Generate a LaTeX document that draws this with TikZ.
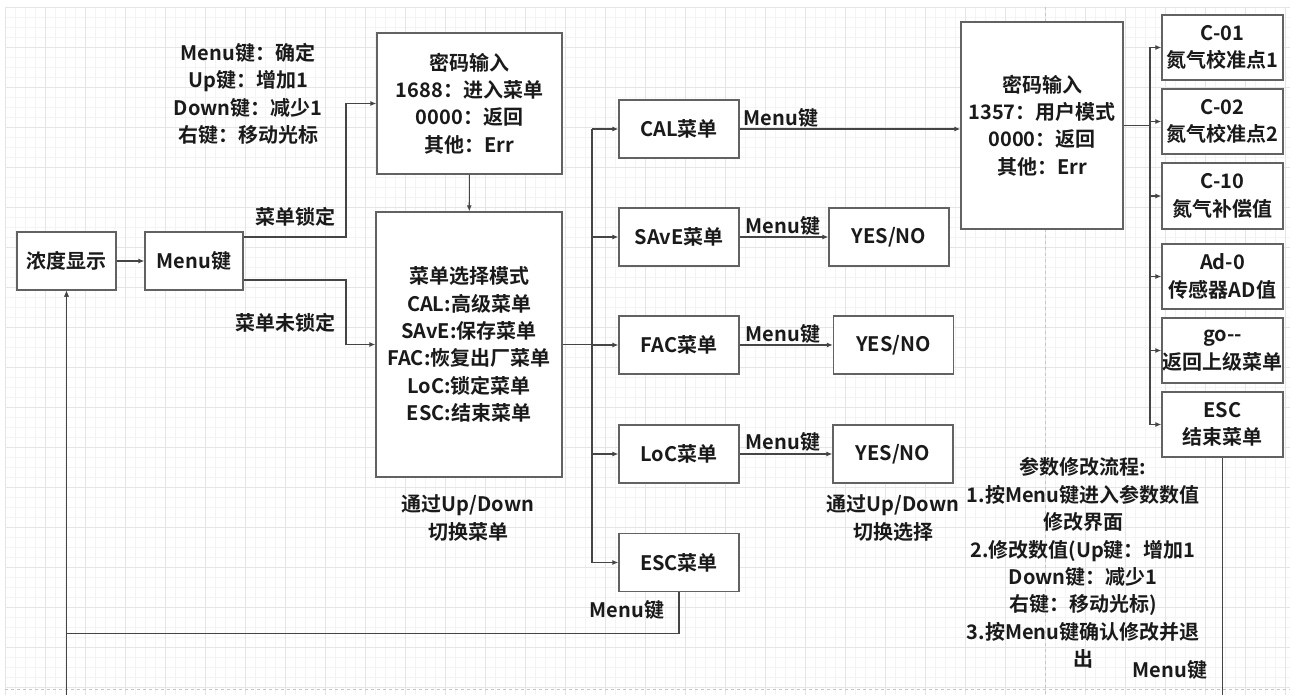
\documentclass[tikz,border=0pt]{standalone}
\usepackage{fontspec}
\setmainfont{Noto Sans CJK SC}[BoldFont={* Bold}]
\usetikzlibrary{arrows.meta}
\definecolor{boxc}{HTML}{626262}
\definecolor{linec}{HTML}{454545}
\definecolor{txtc}{HTML}{1A1A1A}
\begin{document}
\begin{tikzpicture}[x=1pt,y=-1pt,
  every node/.style={font=\fontsize{20}{27.4}\selectfont\bfseries, text=txtc},
  box/.style={draw=boxc, line width=1.3pt, fill=white, align=center, inner sep=0pt},
  lbl/.style={align=center, inner sep=0pt},
  conn/.style={draw=linec, line width=1.1pt},
  arr/.style={conn, -{Latex[length=6pt,width=5pt]}},
  minor/.style={draw=gray!9, line width=0.5pt},
  major/.style={draw=gray!20, line width=0.6pt}]
\useasboundingbox (0,0) rectangle (1290,695);
\begin{scope}
\clip (0,0) rectangle (1290,695);
% background grid
\foreach \i in {5,15,...,1290} \draw[minor] (\i,7) -- (\i,695);
\foreach \j in {7,17,...,695} \draw[minor] (5,\j) -- (1290,\j);
\foreach \i in {5,45,...,1290} \draw[major] (\i,7) -- (\i,695);
\foreach \j in {7,47,...,695} \draw[major] (5,\j) -- (1290,\j);
\draw[gray!45, dashed, line width=0.6pt] (1045,7) -- (1045,695);
\draw[gray!45, dashed, line width=0.6pt] (5,689) -- (1290,689);

% nodes
\node[box, minimum width=99pt, minimum height=58pt] (nd) at (66.5,261) {浓度显示};
\node[box, minimum width=98pt, minimum height=58pt] (mk) at (194,261) {Menu键};
\node[box, minimum width=185pt, minimum height=141pt] (pw1) at (469.5,103.5) {密码输入\\1688：进入菜单\\0000：返回\\其他：Err};
\node[box, minimum width=186pt, minimum height=265pt] (sel) at (469,344.5) {菜单选择模式\\CAL:高级菜单\\SAvE:保存菜单\\FAC:恢复出厂菜单\\LoC:锁定菜单\\ESC:结束菜单};
\node[box, minimum width=120pt, minimum height=58pt] (cal) at (679,129) {CAL菜单};
\node[box, minimum width=120pt, minimum height=58pt] (save) at (679,237) {SAvE菜单};
\node[box, minimum width=120pt, minimum height=58pt] (fac) at (679,345) {FAC菜单};
\node[box, minimum width=120pt, minimum height=58pt] (loc) at (679,454) {LoC菜单};
\node[box, minimum width=120pt, minimum height=58pt] (escm) at (679,562.5) {ESC菜单};
\node[box, minimum width=120pt, minimum height=58pt] (yn1) at (889,237) {YES/NO};
\node[box, minimum width=120pt, minimum height=58pt] (yn2) at (893.5,345) {YES/NO};
\node[box, minimum width=120pt, minimum height=58pt] (yn3) at (893,454) {YES/NO};
\node[box, minimum width=162pt, minimum height=207pt] (pw2) at (1042,125.5) {密码输入\\1357：用户模式\\0000：返回\\其他：Err};
\node[box, minimum width=121pt, minimum height=65pt] (c01) at (1222.5,47.5) {C-01\\氮气校准点1};
\node[box, minimum width=121pt, minimum height=65pt] (c02) at (1222.5,121.5) {C-02\\氮气校准点2};
\node[box, minimum width=121pt, minimum height=66pt] (c10) at (1222.5,196) {C-10\\氮气补偿值};
\node[box, minimum width=121pt, minimum height=65pt] (ad0) at (1222.5,276.5) {Ad-0\\传感器AD值};
\node[box, minimum width=121pt, minimum height=65pt] (go) at (1222.5,350.5) {go-{}-\\返回上级菜单};
\node[box, minimum width=121pt, minimum height=65pt] (esc2) at (1222.5,424.5) {ESC\\结束菜单};

% labels
\node[lbl] (legend) at (248,94) {Menu键：确定\\Up键：增加1\\Down键：减少1\\右键：移动光标};
\node[lbl] (l1) at (295,217) {菜单锁定};
\node[lbl] (l2) at (285,323) {菜单未锁定};
\node[lbl] (l3) at (468,518) {通过Up/Down\\切换菜单};
\node[lbl] (l4) at (893,518) {通过Up/Down\\切换选择};
\node[lbl] (m1) at (781,118) {Menu键};
\node[lbl] (m2) at (783,226) {Menu键};
\node[lbl] (m3) at (783,334) {Menu键};
\node[lbl] (m4) at (783,442) {Menu键};
\node[lbl] (m5) at (627,610) {Menu键};
\node[lbl] (m6) at (1170,670) {Menu键};
\node[lbl] (proc) at (1083,563) {参数修改流程:\\1.按Menu键进入参数数值\\修改界面\\2.修改数值(Up键：增加1\\Down键：减少1\\右键：移动光标)\\3.按Menu键确认修改并退\\出};

% connectors
\draw[arr] (nd) -- (mk);
\coordinate (k1) at (346,237);
\coordinate (k2) at (346,280);
\draw[arr] (mk.east |- k1) -- (k1) |- (pw1.west);
\draw[arr] (mk.east |- k2) -- (k2) |- (sel.west);
\draw[arr] (pw1) -- (sel);
\coordinate (b1) at (592,345);
\draw[conn] (sel.east) -- (sel.east -| b1);
\draw[conn] (cal.west -| b1) -- (escm.west -| b1);
\foreach \n in {cal,save,fac,loc,escm} \draw[arr] (\n.west -| b1) -- (\n.west);
\draw[arr] (cal.east) -- (cal.east -| pw2.west);
\draw[arr] (save) -- (yn1);
\draw[arr] (fac) -- (yn2);
\draw[arr] (loc) -- (yn3);
\coordinate (b2) at (1150,125.5);
\draw[conn] (pw2.east) -- (b2);
\draw[conn] (c01.west -| b2) -- (esc2.west -| b2);
\foreach \n in {c01,c02,c10,ad0,go,esc2} \draw[arr] (\n.west -| b2) -- (\n.west);
\draw[arr] (escm.south) -- ++(0,41) -| (nd.south);
\draw[arr] (esc2.south) -- ++(0,280) -| (nd.south);
\end{scope}
\end{tikzpicture}
\end{document}
